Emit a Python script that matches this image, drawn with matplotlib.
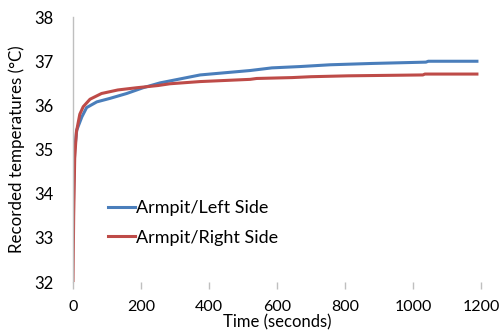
import matplotlib
matplotlib.use("Agg")
import matplotlib.pyplot as plt

plt.rcParams['font.family'] = ['Lato', 'DejaVu Sans']

left_t = [0, 2, 5, 11, 26, 40, 70, 109, 158, 206, 256, 315, 374, 462, 521, 585, 668,
          756, 879, 1038, 1045, 1188]
left_T = [33.0, 34.2, 35.0, 35.44, 35.74, 35.95, 36.08, 36.16, 36.27, 36.4, 36.51, 36.6,
          36.69, 36.75, 36.79, 36.85, 36.88, 36.92, 36.95, 36.98, 37.0, 37.0]

right_t = [0, 2, 5, 10, 15, 20, 30, 50, 84, 132, 187, 250, 285, 374, 521, 540, 644,
           700, 809, 1029, 1035, 1188]
right_T = [32.0, 33.5, 34.8, 35.4, 35.6, 35.8, 35.97, 36.14, 36.27, 36.35, 36.4, 36.45,
           36.49, 36.54, 36.59, 36.61, 36.63, 36.65, 36.67, 36.69, 36.71, 36.71]

x_ticks = [0, 200, 400, 600, 800, 1000, 1200]
y_ticks = [32, 33, 34, 35, 36, 37, 38]

blue = '#4A7EBB'
red = '#BE4B48'

fig = plt.figure(figsize=(5, 3.35), dpi=100)
ax = fig.add_axes([0.146, 0.158, 0.816, 0.791])
ax.plot(left_t, left_T, color=blue, lw=2.2, label='Armpit/Left Side')
ax.plot(right_t, right_T, color=red, lw=2.2, label='Armpit/Right Side')

ax.set_xlim(0, 1200)
ax.set_ylim(32, 38)
ax.set_xticks(x_ticks)
ax.set_yticks(y_ticks)
for s in ['top', 'right', 'bottom']:
    ax.spines[s].set_visible(False)
ax.spines['left'].set_color('#BFBFBF')
ax.spines['left'].set_linewidth(1)
ax.tick_params(axis='y', length=0, pad=14, labelsize=12, colors='#000000')
ax.tick_params(axis='x', length=5, width=1, color='#BFBFBF', pad=8, labelsize=11.5)

ax.set_xlabel('Time (seconds)', fontsize=12, labelpad=0)
ax.set_ylabel('Recorded temperatures (°C)', fontsize=12.2, labelpad=7)

leg = ax.legend(loc='upper left', bbox_to_anchor=(0.045, 0.37), frameon=False,
                fontsize=13, handlelength=1.5, handletextpad=0.1, labelspacing=0.75)

fig.savefig('out.png', dpi=100)
